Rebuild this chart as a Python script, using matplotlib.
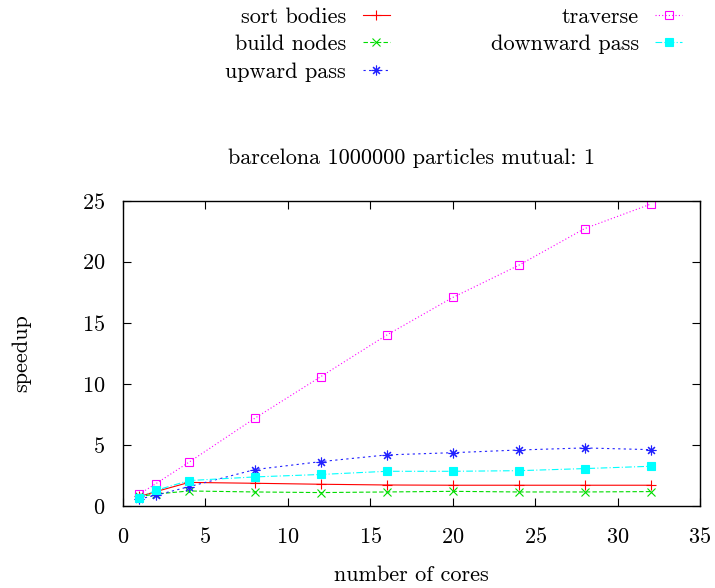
import matplotlib
matplotlib.use("Agg")
import matplotlib.pyplot as plt

plt.rcParams['font.family'] = ['cmr10', 'DejaVu Serif']
plt.rcParams['axes.formatter.use_mathtext'] = True
plt.rcParams['mathtext.fontset'] = 'cm'

cores = [1, 2, 4, 8, 12, 16, 20, 24, 28, 32]

sort_bodies = [0.8, 1.2, 1.95, 1.88, 1.8, 1.74, 1.72, 1.72, 1.72, 1.72]
build_nodes = [0.8, 1.0, 1.25, 1.17, 1.12, 1.17, 1.22, 1.17, 1.17, 1.2]
upward_pass = [0.6, 0.9, 1.6, 3.0, 3.65, 4.2, 4.38, 4.6, 4.77, 4.63]
traverse = [1.0, 1.85, 3.6, 7.2, 10.6, 14.0, 17.07, 19.7, 22.7, 24.7]
downward_pass = [0.7, 1.3, 2.1, 2.4, 2.6, 2.86, 2.86, 2.91, 3.08, 3.27]

fs = 16

fig = plt.figure(figsize=(7.15, 5.88), dpi=100)
ax = fig.add_axes([0.172, 0.139, 0.807, 0.520])

lw = 0.8
ax.plot(cores, sort_bodies, color='#ff0000', ls='-', lw=lw, marker='+', ms=7, mew=0.8, label='sort bodies')
ax.plot(cores, build_nodes, color='#00dd00', ls=(0, (4, 2)), lw=lw, marker='x', ms=6, mew=0.8, label='build nodes')
ax.plot(cores, upward_pass, color='#2020ff', ls=(0, (2, 3)), lw=lw, marker=(8, 2, 0), ms=7, mew=0.8, label='upward pass')
ax.plot(cores, traverse, color='#ff00ff', ls=(0, (1, 2)), lw=lw, marker='s', ms=6, mfc='none', mew=0.8, label='traverse')
ax.plot(cores, downward_pass, color='#00ffff', ls=(0, (6, 2, 1, 2)), lw=lw, marker='s', ms=6, mew=0.8, label='downward pass')

ax.set_xlim(0, 35)
ax.set_ylim(0, 25)
ax.set_xticks(range(0, 36, 5))
ax.set_yticks(range(0, 26, 5))
ax.tick_params(direction='in', top=True, right=True, length=6, width=0.8, labelsize=fs)
ax.tick_params(axis='x', pad=15)
ax.tick_params(axis='y', pad=13)
for s in ax.spines.values():
    s.set_linewidth(1.0)

ax.set_title('barcelona 1000000 particles mutual: 1', fontsize=fs, pad=26)
ax.set_xlabel('number of cores', fontsize=fs, labelpad=13)
ax.set_ylabel('speedup', fontsize=fs, labelpad=36)

fig.legend(loc='upper right', bbox_to_anchor=(0.954, 0.988), ncol=2, markerfirst=False,
           frameon=False, fontsize=fs, handlelength=1.2, handletextpad=0.75,
           columnspacing=4.55, labelspacing=0.36, borderpad=0.0, borderaxespad=0.0)

fig.savefig('out.png', dpi=100)
